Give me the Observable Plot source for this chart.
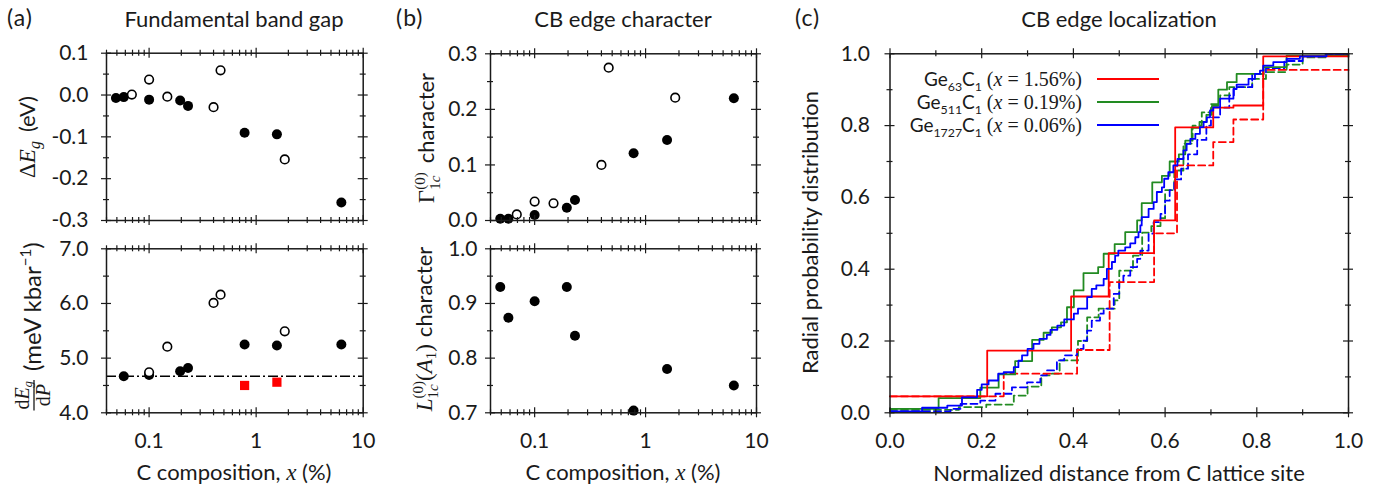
<!DOCTYPE html>
<html><head><meta charset="utf-8">
<script src="https://cdn.jsdelivr.net/npm/d3@7"></script>
<script src="https://cdn.jsdelivr.net/npm/@observablehq/plot@0.6"></script>
<style>
body{margin:0;background:#fff;}
#wrap{position:relative;width:1391px;height:492px;overflow:hidden;font-family:Lato,sans-serif;color:#1a1a1a;}
#wrap svg{position:absolute;left:0;top:0;}
.t{position:absolute;white-space:nowrap;font-size:22px;line-height:1;}
.c{transform:translateX(-50%);}
.pl{font-size:23px;letter-spacing:1px;}
.m{font-family:"Liberation Serif",serif;font-style:italic;font-size:23px;}
.r{font-family:"Liberation Serif",serif;font-style:normal;}
sub{font-size:0.65em;line-height:0;}
.leg{position:absolute;white-space:nowrap;font-size:19px;line-height:1;text-align:right;transform:translateY(-50%);}
.leg .r{font-size:20px;}
.sw{position:absolute;height:0;border-top:2px solid;}
</style></head><body><div id="wrap"></div>
<script>
// ---------- data ----------
const xFilled = [0.049, 0.058, 0.1, 0.195, 0.231, 0.78, 1.5625, 6.25];
const xOpen = [0.069, 0.1, 0.148, 0.4, 0.465, 1.85];
const gapFilled = [-0.007, -0.005, -0.011, -0.013, -0.026, -0.090, -0.094, -0.257];
const gapOpen = [0.001, 0.037, -0.004, -0.029, 0.059, -0.154];
const xPresFilled = [0.058, 0.1, 0.195, 0.231, 0.78, 1.5625, 6.25];
const presFilled = [4.67, 4.69, 4.76, 4.82, 5.25, 5.23, 5.25];
const xPresOpen = [0.1, 0.148, 0.4, 0.465, 1.85];
const presOpen = [4.74, 5.21, 6.01, 6.16, 5.49];
const xPresSquare = [0.78, 1.5625];
const presSquare = [4.50, 4.56];
const presReference = [4.67];
const gammaFilled = [0.003, 0.003, 0.010, 0.023, 0.037, 0.121, 0.145, 0.220];
const gammaOpen = [0.011, 0.034, 0.031, 0.100, 0.275, 0.221];
const lFilled = [0.930, 0.874, 0.904, 0.930, 0.841, 0.704, 0.780, 0.750];

const logMajor = [0.1, 1, 10];
const logMinor = [0.04,0.05,0.06,0.07,0.08,0.09,0.2,0.3,0.4,0.5,0.6,0.7,0.8,0.9,2,3,4,5,6,7,8,9];
const gapTicks = [-0.3, -0.2, -0.1, 0.0, 0.1];
const gapMinor = [-0.25, -0.15, -0.05, 0.05];
const presTicks = [4, 5, 6, 7];
const presMinor = [4.5, 5.5, 6.5];
const gammaTicks = [0, 0.1, 0.2, 0.3];
const gammaMinor = [0.05, 0.15, 0.25];
const lTicks = [0.7, 0.8, 0.9, 1.0];
const lMinor = [0.75, 0.85, 0.95];
const unitTicks = [0, 0.2, 0.4, 0.6, 0.8, 1.0];
const unitMinor = [0.1, 0.3, 0.5, 0.7, 0.9];

// radial probability distributions [distance, cumulative]
const ge63Solid = [[0,0.046],[0.212,0.173],[0.395,0.324],[0.477,0.445],[0.576,0.536],[0.622,0.795],[0.705,0.85],[0.749,0.856],[0.814,0.993],[1,0.993]];
const ge63Dashed = [[0,0.046],[0.248,0.109],[0.408,0.175],[0.479,0.364],[0.576,0.5],[0.626,0.689],[0.705,0.754],[0.749,0.817],[0.814,0.955],[1,0.955]];
const ge511Solid = [[0,0.011],[0.106,0.041],[0.197,0.07],[0.237,0.107],[0.273,0.144],[0.31,0.203],[0.335,0.223],[0.353,0.238],[0.373,0.252],[0.386,0.294],[0.401,0.341],[0.422,0.389],[0.454,0.406],[0.466,0.443],[0.49,0.47],[0.513,0.503],[0.539,0.536],[0.549,0.584],[0.572,0.642],[0.593,0.66],[0.61,0.7],[0.63,0.72],[0.644,0.758],[0.658,0.794],[0.675,0.81],[0.69,0.83],[0.702,0.855],[0.716,0.9],[0.735,0.921],[0.756,0.944],[0.815,0.963],[0.865,0.995],[1,0.995]];
const ge511Dashed = [[0,0.008],[0.15,0.016],[0.21,0.023],[0.27,0.048],[0.3,0.073],[0.33,0.104],[0.35,0.109],[0.37,0.146],[0.41,0.2],[0.43,0.266],[0.455,0.29],[0.49,0.313],[0.5,0.396],[0.53,0.438],[0.55,0.502],[0.57,0.52],[0.59,0.542],[0.6,0.62],[0.62,0.675],[0.64,0.75],[0.66,0.8],[0.68,0.837],[0.7,0.86],[0.72,0.884],[0.74,0.907],[0.79,0.93],[0.82,0.949],[0.865,0.97],[0.9,0.99],[0.95,1],[1,1]];
const ge1727Solid = [[0,0.004],[0.07,0.014],[0.125,0.02],[0.157,0.043],[0.19,0.064],[0.2,0.079],[0.215,0.09],[0.236,0.109],[0.248,0.113],[0.27,0.127],[0.28,0.145],[0.288,0.16],[0.3,0.178],[0.313,0.192],[0.326,0.206],[0.342,0.217],[0.35,0.231],[0.365,0.243],[0.38,0.26],[0.401,0.276],[0.41,0.29],[0.43,0.322],[0.44,0.345],[0.45,0.355],[0.466,0.373],[0.473,0.401],[0.484,0.42],[0.491,0.438],[0.498,0.452],[0.513,0.461],[0.524,0.472],[0.535,0.489],[0.542,0.503],[0.546,0.522],[0.549,0.545],[0.564,0.568],[0.575,0.587],[0.582,0.615],[0.593,0.628],[0.598,0.652],[0.607,0.67],[0.618,0.689],[0.627,0.707],[0.64,0.731],[0.647,0.749],[0.655,0.763],[0.666,0.777],[0.676,0.796],[0.684,0.81],[0.691,0.823],[0.698,0.842],[0.705,0.851],[0.72,0.875],[0.749,0.902],[0.756,0.914],[0.782,0.93],[0.796,0.944],[0.807,0.953],[0.814,0.967],[0.836,0.977],[0.865,0.986],[0.894,0.993],[0.952,1.0],[1,1.0]];
const ge1727Dashed = [[0,0.004],[0.132,0.011],[0.154,0.025],[0.197,0.034],[0.23,0.053],[0.266,0.071],[0.299,0.085],[0.328,0.104],[0.342,0.118],[0.364,0.146],[0.38,0.16],[0.408,0.178],[0.422,0.201],[0.43,0.229],[0.44,0.257],[0.458,0.276],[0.466,0.29],[0.488,0.331],[0.5,0.364],[0.509,0.382],[0.524,0.406],[0.539,0.429],[0.546,0.452],[0.564,0.499],[0.575,0.531],[0.59,0.554],[0.6,0.591],[0.61,0.62],[0.62,0.65],[0.635,0.68],[0.65,0.72],[0.67,0.76],[0.69,0.8],[0.7,0.823],[0.72,0.85],[0.74,0.884],[0.75,0.907],[0.79,0.944],[0.82,0.96],[0.86,0.98],[0.9,0.993],[0.95,1],[1,1]];

const RED = "#ff0000", GREEN = "#228b22", BLUE = "#0000ff";
const W = 1391, H = 492;
const wrap = document.getElementById("wrap");
const INK = "#1a1a1a";
const SANS = "Lato, sans-serif", SERIF = "'Liberation Serif', serif";

function ticks(fw, fh, xMaj, xMin, yMaj, yMin) {
  const L = 5, l = 3, s = {stroke: INK, strokeWidth: 1.2};
  const out = [];
  for (const [arr, k] of [[xMaj, L], [xMin, l]]) {
    out.push(Plot.ruleX(arr, {...s, insetTop: fh - k, insetBottom: -k}));
    out.push(Plot.ruleX(arr, {...s, insetTop: -k, insetBottom: fh - k}));
  }
  for (const [arr, k] of [[yMaj, L], [yMin, l]]) {
    out.push(Plot.ruleY(arr, {...s, insetLeft: -k, insetRight: fw - k}));
    out.push(Plot.ruleY(arr, {...s, insetLeft: fw - k, insetRight: -k}));
  }
  return out;
}

function panel(f, opts) {
  const fw = f.x1 - f.x0, fh = f.y1 - f.y0;
  const svg = Plot.plot({
    width: W, height: H,
    marginLeft: f.x0, marginRight: W - f.x1, marginTop: f.y0, marginBottom: H - f.y1,
    x: opts.x, y: opts.y,
    style: {fontFamily: SANS, fontSize: "21px", background: "transparent", overflow: "visible", color: INK},
    marks: [
      ...opts.marks,
      ...ticks(fw, fh, opts.xMaj, opts.xMin, opts.yMaj, opts.yMin),
      Plot.frame({stroke: INK, strokeWidth: 1.5}),
      Plot.axisY({ticks: opts.yMaj, tickSize: 0, tickPadding: f.ypad, tickFormat: d => d.toFixed(1), label: null, fill: INK}),
      ...(opts.xLabels ? [Plot.axisX({ticks: opts.xMaj, tickSize: 0, tickPadding: 20, tickFormat: opts.xFmt, label: null, fill: INK})] : [])
    ]
  });
  wrap.appendChild(svg);
}

const pts = (xs, ys) => xs.map((x, i) => ({x, y: ys[i]}));
const filled = (d) => Plot.dot(d, {x: "x", y: "y", r: 5, fill: "black"});
const open = (d) => Plot.dot(d, {x: "x", y: "y", r: 4.3, fill: "white", stroke: "black", strokeWidth: 1.6});
const logX = {type: "log", domain: [0.04, 10]};
const logFmt = d => String(d);

// (a) top
panel({x0: 106, x1: 362.7, y0: 52.7, y1: 220, ypad: 18}, {
  x: {...logX, axis: null}, y: {domain: [-0.3, 0.1]},
  xMaj: logMajor, xMin: logMinor, yMaj: gapTicks, yMin: gapMinor,
  marks: [filled(pts(xFilled, gapFilled)), open(pts(xOpen, gapOpen))]
});
// (a) bottom
panel({x0: 106, x1: 362.7, y0: 248.3, y1: 412.3, ypad: 18}, {
  x: logX, y: {domain: [4, 7]},
  xMaj: logMajor, xMin: logMinor, yMaj: presTicks, yMin: presMinor, xLabels: true, xFmt: logFmt,
  marks: [
    Plot.ruleY(presReference, {stroke: "black", strokeWidth: 1.5, strokeDasharray: "10,3,2,3"}),
    filled(pts(xPresFilled, presFilled)), open(pts(xPresOpen, presOpen)),
    Plot.dot(pts(xPresSquare, presSquare), {x: "x", y: "y", symbol: "square", r: 5.2, fill: RED})
  ]
});
// (b) top
panel({x0: 490, x1: 756, y0: 53.3, y1: 220, ypad: 13}, {
  x: {...logX, axis: null}, y: {domain: [0, 0.3]},
  xMaj: logMajor, xMin: logMinor, yMaj: gammaTicks, yMin: gammaMinor,
  marks: [filled(pts(xFilled, gammaFilled)), open(pts(xOpen, gammaOpen))]
});
// (b) bottom
panel({x0: 490, x1: 756, y0: 248.3, y1: 412.3, ypad: 13}, {
  x: logX, y: {domain: [0.7, 1.0]},
  xMaj: logMajor, xMin: logMinor, yMaj: lTicks, yMin: lMinor, xLabels: true, xFmt: logFmt,
  marks: [filled(pts(xFilled, lFilled))]
});
// (c)
const seriesC = [
  {d: ge511Dashed, stroke: GREEN, dash: "7,4"},
  {d: ge1727Dashed, stroke: BLUE, dash: "7,4"},
  {d: ge63Dashed, stroke: RED, dash: "7,4"},
  {d: ge511Solid, stroke: GREEN, dash: null},
  {d: ge63Solid, stroke: RED, dash: null},
  {d: ge1727Solid, stroke: BLUE, dash: null}
];
panel({x0: 889.5, x1: 1348, y0: 53.3, y1: 412.3, ypad: 20}, {
  x: {domain: [0, 1]}, y: {domain: [0, 1]},
  xMaj: unitTicks, xMin: unitMinor, yMaj: unitTicks, yMin: unitMinor, xLabels: true, xFmt: d => d.toFixed(1),
  marks: seriesC.map(s => Plot.line(s.d, {x: d => d[0], y: d => d[1], curve: "step-after", stroke: s.stroke, strokeWidth: 1.8, strokeDasharray: s.dash}))
});

// ---------- text ----------
function txt(html, style, cls = "t") {
  const el = document.createElement("div");
  el.className = cls;
  el.innerHTML = html;
  Object.assign(el.style, style);
  wrap.appendChild(el);
  return el;
}
txt("(a)", {left: "7px", top: "6px"}, "t pl");
txt("(b)", {left: "396px", top: "6px"}, "t pl");
txt("(c)", {left: "795px", top: "6px"}, "t pl");
txt("Fundamental band gap", {left: "234px", top: "8px"}, "t c");
txt("CB edge character", {left: "623px", top: "8px"}, "t c");
txt("CB edge localization", {left: "1119px", top: "8px"}, "t c");
txt('C composition, <span class="m">x</span> (%)', {left: "234px", top: "461px"}, "t c");
txt('C composition, <span class="m">x</span> (%)', {left: "623px", top: "461px"}, "t c");
txt("Normalized distance from C lattice site", {left: "1119px", top: "462px"}, "t c");

// rotated axis labels, laid out piece by piece in an overlay svg
const overlay = d3.select(wrap).append("svg").attr("width", W).attr("height", H).style("overflow", "visible");
const S = (t, o = {}) => ({type: "s", t, size: o.size ?? 22, fam: o.fam ?? SANS, it: o.it ?? false, dy: o.dy ?? 0});
const G = (w) => ({type: "gap", w});
function placeRun(g, run, x0, y0) {
  let x = x0;
  for (const s of run) {
    if (s.type === "gap") { x += s.w; continue; }
    if (s.type === "s") {
      const t = g.append("text").attr("x", x).attr("y", y0 + s.dy)
        .attr("font-size", s.size).attr("font-family", s.fam)
        .attr("font-style", s.it ? "italic" : "normal").attr("fill", INK).text(s.t);
      x += t.node().getComputedTextLength();
    } else if (s.type === "stack") {
      const widths = s.rows.map(r => { const gg = g.append("g"); const w = placeRun(gg, r.run, 0, 0); gg.remove(); return w; });
      const mw = Math.max(...widths);
      s.rows.forEach((r, i) => placeRun(g, r.run, x + (s.center ? (mw - widths[i]) / 2 : 0), y0 + r.dy));
      if (s.rule != null) g.append("line").attr("x1", x - 1).attr("x2", x + mw + 1)
        .attr("y1", y0 + s.rule).attr("y2", y0 + s.rule).attr("stroke", INK).attr("stroke-width", 1.3);
      x += mw;
    }
  }
  return x - x0;
}
function richLabel(cx, cy, run) {
  const g = overlay.append("g");
  const inner = g.append("g");
  const w = placeRun(inner, run, 0, 0);
  inner.attr("transform", `translate(${-w / 2},0)`);
  g.attr("transform", `translate(${cx},${cy}) rotate(-90)`);
}
const mS = (t, size = 23, dy = 0) => S(t, {fam: SERIF, it: true, size, dy});
const rS = (t, size = 23, dy = 0) => S(t, {fam: SERIF, size, dy});
const scripts = {type: "stack", rows: [{run: [rS("(0)", 15)], dy: -9}, {run: [rS("1", 15), mS("c", 15)], dy: 6}]};

richLabel(35, 137, [rS("Δ"), mS("E"), mS("g", 16, 5), G(9), S("(eV)")]);
richLabel(41, 326, [
  {type: "stack", center: true, rule: -7, rows: [
    {run: [rS("d", 20), mS("E", 20), mS("g", 13, 3)], dy: -12},
    {run: [rS("d", 20), mS("P", 20)], dy: 9}]},
  G(10), S("(meV kbar", {size: 24}), S("−1", {size: 15, dy: -10}), S(")", {size: 24})
]);
richLabel(434, 138, [rS("Γ"), scripts, G(9), S("character")]);
richLabel(432, 329, [mS("L"), scripts, rS("("), mS("A"), rS("1", 15, 4), rS(")"), G(7), S("character")]);
richLabel(818, 232.5, [S("Radial probability distribution")]);

// legend
const legendLabels = [
  {n: "63", x: "1.56", c: RED, y: 79},
  {n: "511", x: "0.19", c: GREEN, y: 102},
  {n: "1727", x: "0.06", c: BLUE, y: 125}
];
for (const e of legendLabels) {
  txt(`Ge<sub>${e.n}</sub>C<sub>1</sub> <span class="r">(<i>x</i> = ${e.x}%)</span>`, {right: (W - 1082) + "px", top: e.y + "px"}, "leg");
  const sw = document.createElement("div");
  sw.className = "sw";
  Object.assign(sw.style, {left: "1097px", width: "62px", top: (e.y - 1) + "px", borderColor: e.c});
  wrap.appendChild(sw);
}
</script></body></html>
